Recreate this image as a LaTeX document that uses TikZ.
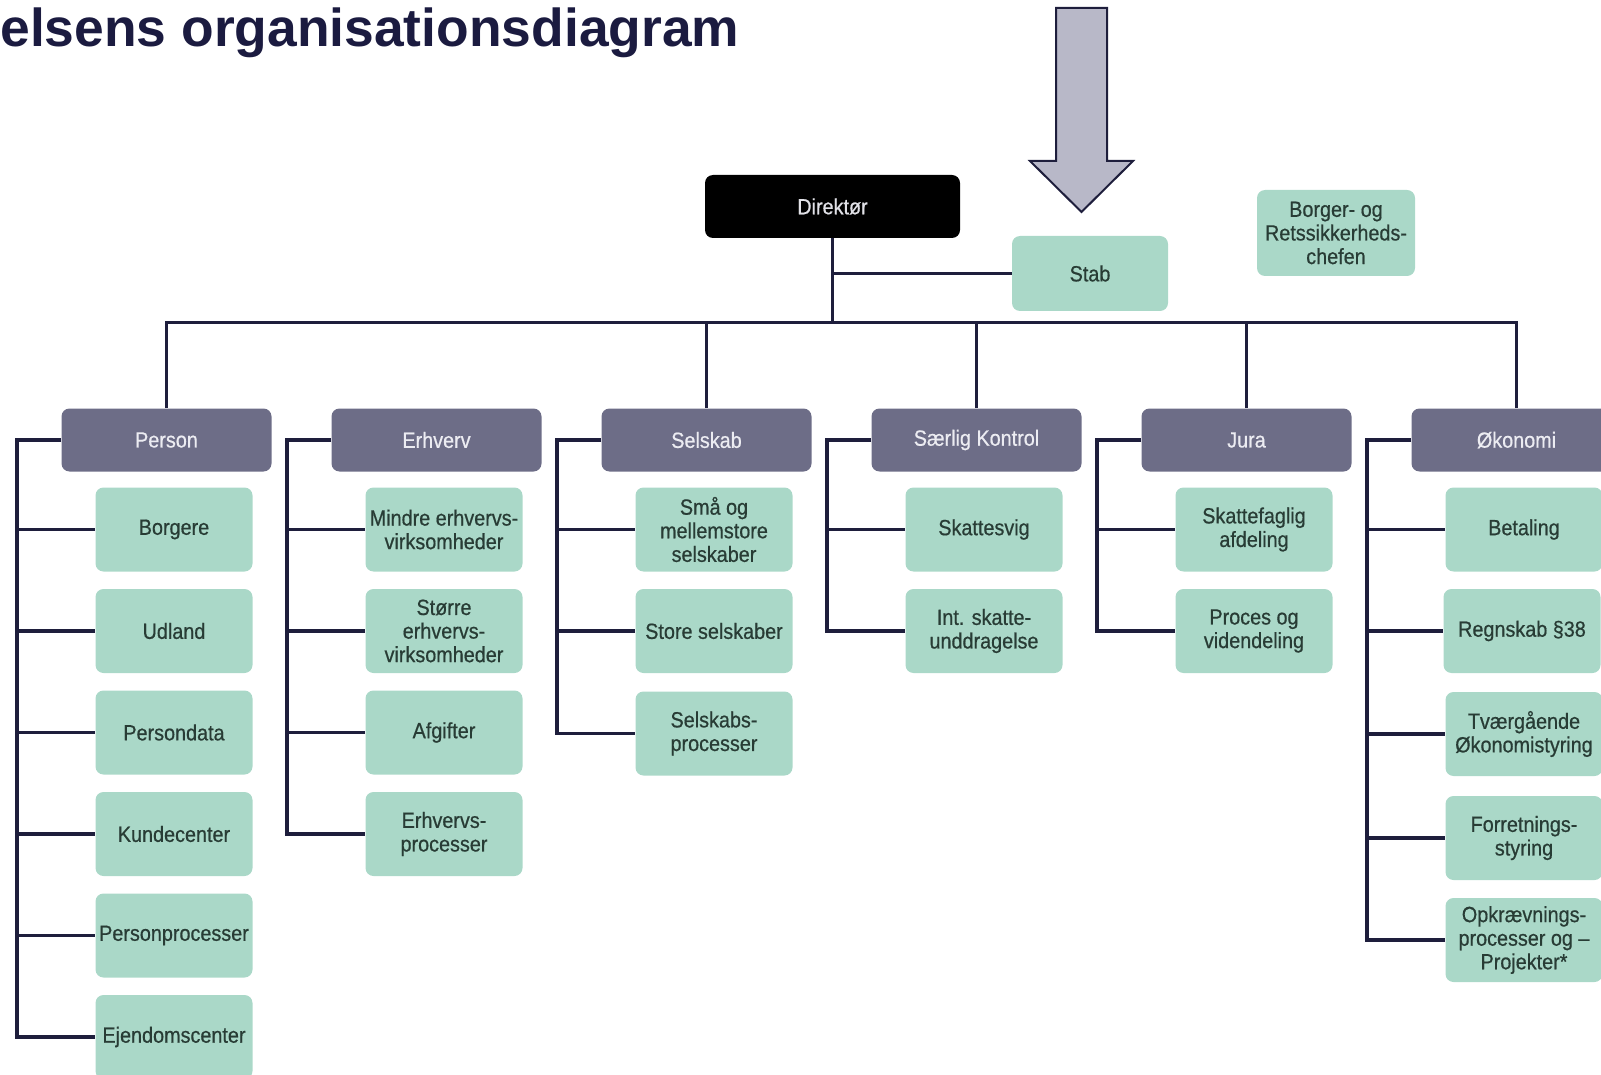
\documentclass[tikz,border=0pt]{standalone}
\usepackage{fontspec}
\setmainfont{Liberation Sans}[FakeStretch=0.9]
\newfontfamily\boxface{Liberation Sans}[FakeStretch=0.9, FakeBold=0.6]
\newfontfamily\titlefont{Liberation Sans}
\definecolor{mint}{HTML}{AAD8C8}
\definecolor{slate}{HTML}{6D6D87}
\definecolor{ink}{HTML}{1E1E3C}
\definecolor{titlecol}{HTML}{1B1B40}
\definecolor{leaftext}{HTML}{283C35}
\definecolor{headtext}{HTML}{ECECF2}
\definecolor{arrowfill}{HTML}{B8B8C8}
\begin{document}
\begin{tikzpicture}[x=0.5pt,y=-0.5pt,
  boxfont/.style={font=\boxface\fontsize{11}{11.8}\selectfont},
  leaf/.style={boxfont, rectangle, rounded corners=4pt, fill=mint, text=leaftext,
    minimum width=78.5pt, minimum height=42pt, inner sep=1pt, align=center},
  head/.style={boxfont, rectangle, rounded corners=4pt, fill=slate, text=headtext,
    minimum width=105pt, minimum height=31.5pt, inner sep=1pt, align=center},
  boss/.style={boxfont, rectangle, rounded corners=4pt, fill=black, text=headtext!90!gray,
    minimum width=127.5pt, minimum height=31.5pt, inner sep=1pt, align=center},
  wire/.style={draw=ink, line width=1.6pt}
]
\useasboundingbox (0,0) rectangle (1601,1075);
\clip (0,0) rectangle (1601,1075);

% title
\node[anchor=base west, inner sep=0pt, text=titlecol,
  font=\titlefont\bfseries\fontsize{26.7}{30}\selectfont] (title) at (0,47)
  {elsens organisationsdiagram};

% pointer arrow
\draw[fill=arrowfill, draw=ink, line width=1pt, line join=miter]
  (1056,8) -- (1107,8) -- (1107,161) -- (1133,161) -- (1081.5,212)
  -- (1030,161) -- (1056,161) -- cycle;

% top level
\node[boss] (dir) at (832.5,206.5) {Direktør};
\node[leaf, minimum width=78pt, minimum height=37.5pt] (stab) at (1090,273.5) {Stab};
\node[leaf, minimum width=79pt, minimum height=43pt] (borger) at (1336,233)
  {Borger- og\\Retssikkerheds-\\chefen};

% department headers
\node[head] (hP) at (166.5,440) {Person};
\node[head] (hE) at (436.5,440) {Erhverv};
\node[head] (hS) at (706.5,440) {Selskab};
\node[head] (hK) at (976.5,440) {Særlig Kontrol};
\node[head] (hJ) at (1246.5,440) {Jura};
\node[head] (hO) at (1516.5,440) {Økonomi};

% Person
\node[leaf] (p1) at (174,529.5) {Borgere};
\node[leaf] (p2) at (174,631) {Udland};
\node[leaf] (p3) at (174,732.5) {Persondata};
\node[leaf] (p4) at (174,834) {Kundecenter};
\node[leaf] (p5) at (174,935.5) {Personprocesser};
\node[leaf] (p6) at (174,1037) {Ejendomscenter};

% Erhverv
\node[leaf] (e1) at (444,529.5) {Mindre erhvervs-\\virksomheder};
\node[leaf] (e2) at (444,631) {Større\\erhvervs-\\virksomheder};
\node[leaf] (e3) at (444,732.5) {Afgifter};
\node[leaf] (e4) at (444,834) {Erhvervs-\\processer};

% Selskab
\node[leaf] (s1) at (714,529.5) {Små og\\mellemstore\\selskaber};
\node[leaf] (s2) at (714,631) {Store selskaber};
\node[leaf] (s3) at (714,733.5) {Selskabs-\\processer};

% Særlig Kontrol
\node[leaf] (k1) at (984,529.5) {Skattesvig};
\node[leaf] (k2) at (984,631) {Int. skatte-\\unddragelse};

% Jura
\node[leaf] (j1) at (1254,529.5) {Skattefaglig\\afdeling};
\node[leaf] (j2) at (1254,631) {Proces og\\videndeling};

% Økonomi
\node[leaf] (o1) at (1524,529.5) {Betaling};
\node[leaf] (o2) at (1522,631) {Regnskab §38};
\node[leaf] (o3) at (1524,734) {Tværgående\\Økonomistyring};
\node[leaf] (o4) at (1524,838) {Forretnings-\\styring};
\node[leaf] (o5) at (1524,940) {Opkrævnings-\\processer og –\\Projekter*};

% director, staff line and main bus
\coordinate (busL) at (166.5,322.6);
\coordinate (busR) at (1516.5,322.6);
\draw[wire] (dir.south) -- (dir.south |- busL);
\draw[wire] (stab.west) -- (stab.west -| dir.south);
\draw[wire, line cap=rect] (busL) -- (busR);
\foreach \h in {hP,hS,hK,hJ,hO}
  \draw[wire] (\h.north) -- (\h.north |- busL);

% department brackets
\coordinate (bP) at (17,440);
\coordinate (bE) at (287,440);
\coordinate (bS) at (557,440);
\coordinate (bK) at (827,440);
\coordinate (bJ) at (1097,440);
\coordinate (bO) at (1367,440);

\draw[wire, line join=miter] (hP.west) -- (bP) -- (bP |- p6.west) -- (p6.west);
\foreach \c in {p1,p2,p3,p4,p5} \draw[wire] (bP |- \c.west) -- (\c.west);

\draw[wire, line join=miter] (hE.west) -- (bE) -- (bE |- e4.west) -- (e4.west);
\foreach \c in {e1,e2,e3} \draw[wire] (bE |- \c.west) -- (\c.west);

\draw[wire, line join=miter] (hS.west) -- (bS) -- (bS |- s3.west) -- (s3.west);
\foreach \c in {s1,s2} \draw[wire] (bS |- \c.west) -- (\c.west);

\draw[wire, line join=miter] (hK.west) -- (bK) -- (bK |- k2.west) -- (k2.west);
\draw[wire] (bK |- k1.west) -- (k1.west);

\draw[wire, line join=miter] (hJ.west) -- (bJ) -- (bJ |- j2.west) -- (j2.west);
\draw[wire] (bJ |- j1.west) -- (j1.west);

\draw[wire, line join=miter] (hO.west) -- (bO) -- (bO |- o5.west) -- (o5.west);
\foreach \c in {o1,o2,o3,o4} \draw[wire] (bO |- \c.west) -- (\c.west);
\end{tikzpicture}
\end{document}
